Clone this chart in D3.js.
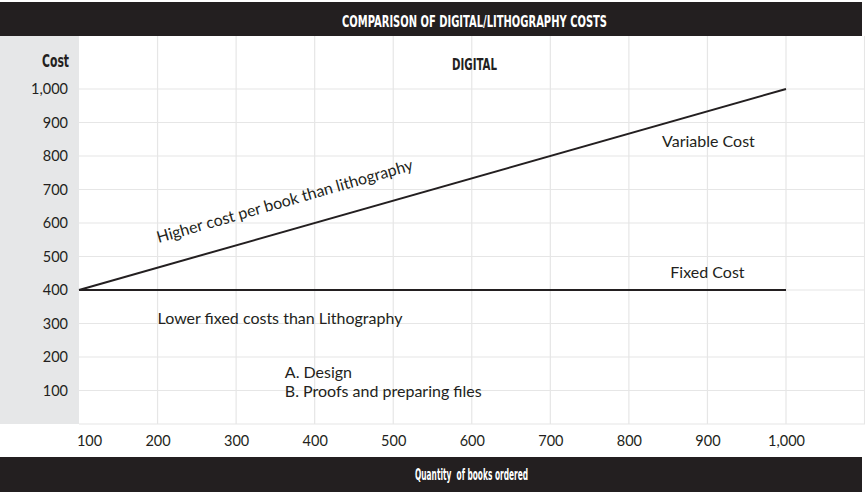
<!DOCTYPE html>
<html>
<head>
<meta charset="utf-8">
<script src="https://cdn.jsdelivr.net/npm/d3@7"></script>
<style>
  body { margin: 0; background: #fff; }
  svg { display: block; }
</style>
</head>
<body>
<div id="chart"></div>
<script>
// chart data
const quantity = [100, 1000];
const variableCost = [400, 1000];
const fixedCost = [400, 400];
const xTicks = [100, 200, 300, 400, 500, 600, 700, 800, 900, 1000];
const yTicks = [100, 200, 300, 400, 500, 600, 700, 800, 900, 1000];
const gridX = [200, 300, 400, 500, 600, 700, 800, 900, 1000, 1100];
const gridY = [0, 100, 200, 300, 400, 500, 600, 700, 800, 900, 1000];

const WIDTH = 865;
const HEIGHT = 492;
const INK = '#231f20';
const GRID = '#e6e6e6';
const PANEL = '#e6e7e8';
const BODY_FONT = 'Lato, "Open Sans", sans-serif';
const HEAD_FONT = '"DejaVu Sans", sans-serif';

const plot = {left: 79, right: 865, top: 36, bottom: 424};

const x = d3.scaleLinear().domain([100, 1000]).range([79, 786]);
const y = d3.scaleLinear().domain([0, 1000]).range([plot.bottom, 89]);
const fmt = d3.format(',');

const svg = d3.select('#chart').append('svg')
  .attr('width', WIDTH)
  .attr('height', HEIGHT);

// condensed bold headings, squeezed to the measured width
function heading(tx, ty, label, size, len, color, anchor) {
  return svg.append('text')
    .attr('x', tx).attr('y', ty)
    .attr('text-anchor', anchor || 'middle')
    .attr('fill', color)
    .attr('textLength', len)
    .attr('lengthAdjust', 'spacingAndGlyphs')
    .attr('xml:space', 'preserve')
    .style('font-family', HEAD_FONT)
    .style('font-weight', 'bold')
    .style('font-size', size + 'px')
    .text(label);
}

// title bar
svg.append('rect')
  .attr('x', 0).attr('y', 2)
  .attr('width', 862).attr('height', 34)
  .attr('fill', INK);
heading(474.5, 27, 'COMPARISON OF DIGITAL/LITHOGRAPHY COSTS', 15, 265, '#fff');

// grey axis panel
svg.append('rect')
  .attr('x', 0).attr('y', plot.top)
  .attr('width', plot.left).attr('height', plot.bottom - plot.top)
  .attr('fill', PANEL);

// grid
const grid = svg.append('g').attr('class', 'grid');
grid.selectAll('line.v')
  .data(gridX)
  .enter().append('line')
  .attr('class', 'v')
  .attr('x1', d => x(d)).attr('x2', d => x(d))
  .attr('y1', plot.top).attr('y2', plot.bottom)
  .attr('stroke', GRID).attr('stroke-width', 1.2);
grid.selectAll('line.h')
  .data(gridY)
  .enter().append('line')
  .attr('class', 'h')
  .attr('x1', plot.left).attr('x2', plot.right)
  .attr('y1', d => y(d)).attr('y2', d => y(d))
  .attr('stroke', GRID).attr('stroke-width', 1.2);

// y axis labels
const yAxis = svg.append('g')
  .attr('transform', `translate(${plot.left - 11},0)`)
  .call(d3.axisLeft(y).tickValues(yTicks).tickFormat(fmt).tickSize(0).tickPadding(0));
yAxis.select('.domain').remove();
yAxis.selectAll('text')
  .attr('fill', INK)
  .style('font-family', BODY_FONT)
  .style('font-size', '14.5px');

heading(42, 67, 'Cost', 17, 27, INK, 'start');
heading(474.5, 70, 'DIGITAL', 15.5, 45, INK);

// x axis labels
const xAxis = svg.append('g')
  .attr('transform', `translate(0,${plot.bottom + 12})`)
  .call(d3.axisBottom(x).tickValues(xTicks).tickFormat(fmt).tickSize(0).tickPadding(0));
xAxis.select('.domain').remove();
xAxis.selectAll('text')
  .attr('fill', INK)
  .attr('dy', '0.71em')
  .style('font-family', BODY_FONT)
  .style('font-size', '14.5px');
// first label sits clear of the grey panel
xAxis.selectAll('.tick').filter(d => d === 100).select('text').attr('dx', 10);

// bottom bar
svg.append('rect')
  .attr('x', 0).attr('y', 457)
  .attr('width', 862).attr('height', 35)
  .attr('fill', INK);
heading(471.5, 480, 'Quantity  of books ordered', 16.5, 113, '#fff');

// cost lines
const line = d3.line().x(d => x(d[0])).y(d => y(d[1]));
[variableCost, fixedCost].forEach(series => {
  svg.append('path')
    .datum(quantity.map((q, i) => [q, series[i]]))
    .attr('d', line)
    .attr('fill', 'none')
    .attr('stroke', INK)
    .attr('stroke-width', 2);
});

// annotations
const note = (tx, ty, label, anchor) => svg.append('text')
  .attr('x', tx).attr('y', ty)
  .attr('text-anchor', anchor || 'start')
  .attr('fill', INK)
  .style('font-family', BODY_FONT)
  .style('font-size', '16px')
  .text(label);

note(x(900) + 1, y(828), 'Variable Cost', 'middle');
note(x(900), y(436), 'Fixed Cost', 'middle');
note(x(200), y(298), 'Lower fixed costs than Lithography');
note(x(362), y(138), 'A. Design');
note(x(362), y(82), 'B. Proofs and preparing files');
note(x(200) + 1, y(540), 'Higher cost per book than lithography')
  .attr('transform', `rotate(-16, ${x(200) + 1}, ${y(540)})`);
</script>
</body>
</html>
